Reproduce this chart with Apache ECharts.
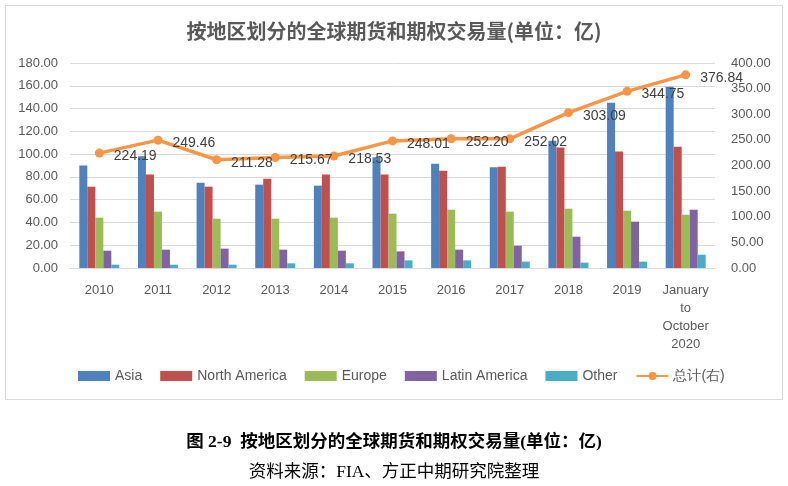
<!DOCTYPE html>
<html><head><meta charset="utf-8">
<script src="https://cdn.jsdelivr.net/npm/echarts@6/dist/echarts.min.js"></script>
<style>html,body{margin:0;padding:0;background:#fff}#c{width:788px;height:486px}</style>
</head><body><div id="c"></div>
<script>
const categories = ['2010','2011','2012','2013','2014','2015','2016','2017','2018','2019','January\nto\nOctober\n2020'];
const asia = [89.9, 98.1, 74.9, 73.2, 72.3, 97.2, 91.6, 88.4, 111.8, 145.2, 159.2];
const northAmerica = [71.4, 82.0, 71.4, 78.4, 82.0, 82.0, 85.5, 89.0, 105.7, 102.2, 106.5];
const europe = [44.2, 49.5, 43.3, 43.3, 44.2, 47.7, 51.2, 49.5, 52.1, 50.3, 46.8];
const latinAmerica = [15.2, 16.1, 17.0, 16.1, 15.2, 14.6, 16.1, 19.6, 27.5, 40.7, 51.2];
const other = [2.9, 2.9, 2.9, 4.1, 4.1, 6.7, 6.7, 5.6, 4.7, 5.6, 11.7];
const total = [224.19, 249.46, 211.28, 215.67, 218.53, 248.01, 252.20, 252.02, 303.09, 344.75, 376.84];

const chart = echarts.init(document.getElementById('c'));
const axisFont = {color:'#595959', fontSize:13, fontFamily:'Liberation Sans, Arial, sans-serif'};
function bar(name, data, color){
  return {name, type:'bar', data, barWidth:8, barGap:'0%', itemStyle:{color}, yAxisIndex:0};
}
chart.setOption({
  animation:false,
  title:[
    {text:'按地区划分的全球期货和期权交易量(单位：亿)', left:'center', top:16,
     textStyle:{color:'#595959', fontSize:20, fontWeight:'bold', fontFamily:'Noto Sans CJK SC'}},
    {text:'图 2-9  按地区划分的全球期货和期权交易量(单位：亿)', left:'center', top:429,
     textStyle:{color:'#000', fontSize:17.5, fontWeight:'bold', fontFamily:'Liberation Serif, Noto Sans CJK SC'}},
    {text:'资料来源：FIA、方正中期研究院整理', left:'center', top:459,
     textStyle:{color:'#000', fontSize:17.5, fontWeight:'normal', fontFamily:'Liberation Serif, Noto Sans CJK SC'}}
  ],
  graphic:[{type:'rect', shape:{x:5.5, y:5.5, width:777, height:394}, style:{fill:'none', stroke:'#d9d9d9', lineWidth:1}, silent:true}],
  legend:{
    bottom:98, left:73, itemGap:18, itemWidth:32, itemHeight:10,
    textStyle:{color:'#595959', fontSize:14, fontFamily:'Liberation Sans, Arial, sans-serif'},
    data:[
      {name:'Asia', icon:'rect'},{name:'North America', icon:'rect'},{name:'Europe', icon:'rect'},
      {name:'Latin America', icon:'rect'},{name:'Other', icon:'rect'},{name:'总计(右)'}
    ]
  },
  grid:{left:70, right:73, top:63, bottom:218, containLabel:false},
  xAxis:{type:'category', data:categories,
    axisLine:{lineStyle:{color:'#d9d9d9'}}, axisTick:{show:false},
    axisLabel:Object.assign({}, axisFont, {interval:0, lineHeight:18, margin:13})},
  yAxis:[
    {type:'value', min:0, max:180, interval:20, axisLine:{show:false}, axisTick:{show:false},
     splitLine:{lineStyle:{color:'#d9d9d9'}},
     axisLabel:Object.assign({}, axisFont, {formatter:v=>v.toFixed(2), margin:12})},
    {type:'value', min:0, max:400, interval:50, axisLine:{show:false}, axisTick:{show:false},
     splitLine:{show:false},
     axisLabel:Object.assign({}, axisFont, {formatter:v=>v.toFixed(2), margin:16})}
  ],
  series:[
    bar('Asia', asia, '#4F81BD'),
    bar('North America', northAmerica, '#C0504D'),
    bar('Europe', europe, '#9BBB59'),
    bar('Latin America', latinAmerica, '#8064A2'),
    bar('Other', other, '#4BACC6'),
    {name:'总计(右)', type:'line', yAxisIndex:1, data:total, symbol:'circle', symbolSize:9,
     lineStyle:{color:'#F79646', width:3.5}, itemStyle:{color:'#F79646'},
     label:{show:true, position:'right', distance:10, offset:[0,3], color:'#404040', fontSize:14,
       fontFamily:'Liberation Sans, Arial, sans-serif', formatter:p=>p.value.toFixed(2)}}
  ]
});
</script></body></html>
